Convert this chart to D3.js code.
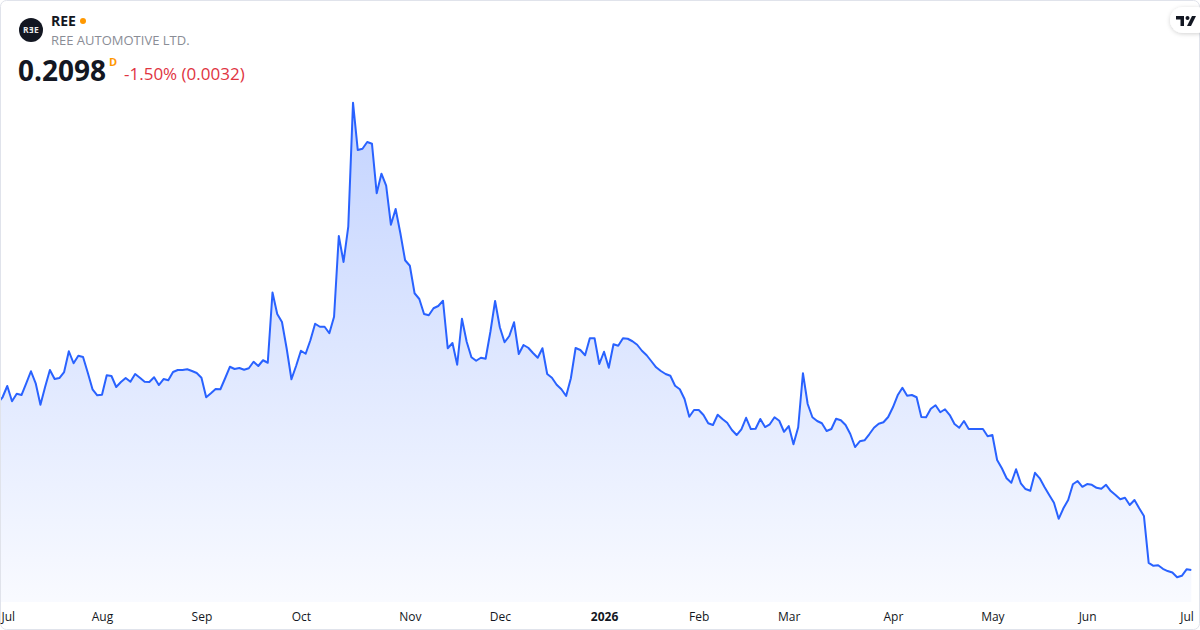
<!DOCTYPE html>
<html>
<head>
<meta charset="utf-8">
<script src="https://cdn.jsdelivr.net/npm/d3@7"></script>
<style>
  html, body { margin: 0; padding: 0; background: #fff; }
  svg { display: block; font-family: "Open Sans", "Noto Sans", sans-serif; }
</style>
</head>
<body>
<div id="container"></div>
<script>
/* CONSTANTS AND GLOBALS */
const width = 1200,
  height = 630,
  plot = { left: -2.2, right: 1191.3, top: 102.7, bottom: 577.3, base: 602 };

/* DATA */
const symbol = "REE";
const company = "REE AUTOMOTIVE LTD.";
const lastPrice = "0.2098";
const change = "-1.50% (0.0032)";

// trading days: weekdays from first to last session minus NYSE holidays
const firstDay = "2025-07-01";
const lastDay = "2026-07-02";
const holidays = [
  "2025-07-04", "2025-09-01", "2025-11-27", "2025-12-25", "2026-01-01",
  "2026-01-19", "2026-02-16", "2026-04-03", "2026-05-25", "2026-06-19"
];

// daily closes
const closes = [
  0.878, 0.901, 0.946, 0.885, 0.915, 0.910, 0.957, 1.005, 0.957, 0.871,
  0.943, 1.010, 0.974, 0.978, 1.002, 1.085, 1.037, 1.067, 1.062, 0.999,
  0.933, 0.909, 0.911, 0.989, 0.986, 0.942, 0.962, 0.978, 0.963, 0.994,
  0.979, 0.963, 0.962, 0.981, 0.950, 0.974, 0.969, 1.002, 1.010, 1.010,
  1.013, 1.006, 0.998, 0.979, 0.901, 0.917, 0.934, 0.933, 0.977, 1.023,
  1.014, 1.018, 1.011, 1.017, 1.043, 1.026, 1.049, 1.039, 1.320, 1.234,
  1.202, 1.095, 0.973, 1.027, 1.087, 1.075, 1.129, 1.195, 1.183, 1.183,
  1.157, 1.223, 1.546, 1.442, 1.583, 2.079, 1.890, 1.895, 1.922, 1.915,
  1.717, 1.795, 1.747, 1.591, 1.654, 1.557, 1.449, 1.427, 1.317, 1.294,
  1.234, 1.229, 1.257, 1.266, 1.287, 1.097, 1.118, 1.031, 1.215, 1.123,
  1.061, 1.047, 1.059, 1.055, 1.162, 1.286, 1.181, 1.121, 1.146, 1.201,
  1.074, 1.110, 1.099, 1.078, 1.059, 1.097, 0.994, 0.979, 0.951, 0.933,
  0.906, 0.977, 1.098, 1.090, 1.069, 1.137, 1.137, 1.034, 1.083, 1.019,
  1.113, 1.107, 1.137, 1.135, 1.125, 1.111, 1.087, 1.069, 1.045, 1.021,
  1.006, 0.994, 0.987, 0.947, 0.933, 0.894, 0.823, 0.850, 0.850, 0.830,
  0.797, 0.790, 0.831, 0.814, 0.799, 0.770, 0.750, 0.773, 0.819, 0.774,
  0.775, 0.814, 0.782, 0.793, 0.821, 0.807, 0.763, 0.786, 0.713, 0.781,
  0.997, 0.874, 0.821, 0.806, 0.797, 0.766, 0.774, 0.815, 0.809, 0.790,
  0.754, 0.702, 0.725, 0.729, 0.753, 0.779, 0.795, 0.801, 0.822, 0.861,
  0.909, 0.939, 0.907, 0.910, 0.901, 0.822, 0.821, 0.855, 0.869, 0.841,
  0.853, 0.830, 0.794, 0.779, 0.806, 0.774, 0.774, 0.774, 0.774, 0.745,
  0.750, 0.650, 0.617, 0.577, 0.559, 0.613, 0.557, 0.534, 0.527, 0.599,
  0.577, 0.542, 0.510, 0.479, 0.415, 0.457, 0.490, 0.553, 0.566, 0.543,
  0.554, 0.551, 0.539, 0.535, 0.551, 0.526, 0.510, 0.493, 0.499, 0.470,
  0.490, 0.457, 0.426, 0.239, 0.227, 0.229, 0.215, 0.206, 0.200, 0.181,
  0.187, 0.2130, 0.2098
];

const monthNames = ["Jan", "Feb", "Mar", "Apr", "May", "Jun",
  "Jul", "Aug", "Sep", "Oct", "Nov", "Dec"];

/* BUILD SESSIONS */
const fmtDay = d3.utcFormat("%Y-%m-%d");
const sessions = d3.utcDays(new Date(firstDay), d3.utcDay.offset(new Date(lastDay), 1))
  .filter(d => d.getUTCDay() % 6 !== 0 && !holidays.includes(fmtDay(d)));
console.log("sessions", sessions.length, "closes", closes.length);

const data = sessions.map((d, i) => ({ date: d, close: closes[i] }));

/* SCALES */
const xScale = d3.scalePoint()
  .domain(sessions)
  .range([plot.left, plot.right]);

const yScale = d3.scaleLinear()
  .domain(d3.extent(closes))
  .range([plot.bottom, plot.top]);

/* SVG */
const svg = d3.select("#container")
  .append("svg")
  .attr("width", width)
  .attr("height", height);

svg.append("rect")
  .attr("x", 0.5).attr("y", 0.5)
  .attr("width", width - 1).attr("height", height - 1)
  .attr("rx", 6)
  .attr("fill", "#fff")
  .attr("stroke", "#e0e3eb");

const defs = svg.append("defs");
const grad = defs.append("linearGradient")
  .attr("id", "fill")
  .attr("gradientUnits", "userSpaceOnUse")
  .attr("x1", 0).attr("x2", 0)
  .attr("y1", plot.top).attr("y2", plot.base);
grad.append("stop").attr("offset", 0).attr("stop-color", "#2962ff").attr("stop-opacity", 0.28);
grad.append("stop").attr("offset", 1).attr("stop-color", "#2962ff").attr("stop-opacity", 0.03);

defs.append("clipPath").attr("id", "pane")
  .append("rect").attr("x", 1).attr("y", 1).attr("width", width - 2).attr("height", plot.base);

defs.append("filter").attr("id", "shadow")
  .attr("x", "-50%").attr("y", "-50%").attr("width", "200%").attr("height", "200%")
  .append("feDropShadow")
  .attr("dx", 0).attr("dy", 1).attr("stdDeviation", 2)
  .attr("flood-color", "#000").attr("flood-opacity", 0.18);

const pane = svg.append("g").attr("clip-path", "url(#pane)");

const area = d3.area()
  .x(d => xScale(d.date))
  .y0(plot.base)
  .y1(d => yScale(d.close));

const line = d3.line()
  .x(d => xScale(d.date))
  .y(d => yScale(d.close));

pane.append("path")
  .datum(data)
  .attr("d", area)
  .attr("fill", "url(#fill)");

pane.append("path")
  .datum(data)
  .attr("d", line)
  .attr("fill", "none")
  .attr("stroke", "#2962ff")
  .attr("stroke-width", 2)
  .attr("stroke-linejoin", "round");

/* X AXIS - first session of each month */
const monthStarts = sessions.filter((d, i) => i === 0 || d.getUTCMonth() !== sessions[i - 1].getUTCMonth());

const xAxis = d3.axisBottom(xScale)
  .tickValues(monthStarts)
  .tickSize(0)
  .tickPadding(0)
  .tickFormat(d => d.getUTCMonth() === 0 ? String(d.getUTCFullYear()) : monthNames[d.getUTCMonth()]);

const axisG = svg.append("g")
  .attr("transform", "translate(0,612)")
  .call(xAxis);

axisG.select(".domain").remove();
axisG.selectAll("text")
  .attr("fill", "#131722")
  .attr("font-size", 12)
  .attr("font-family", "\"Open Sans\", sans-serif")
  .attr("font-weight", d => d.getUTCMonth() === 0 ? 700 : 400)
  .attr("text-anchor", d => xScale(d) < 12 ? "start" : "middle")
  .attr("dx", d => xScale(d) < 12 ? 1 - xScale(d) : 0);

/* HEADER */
const logo = svg.append("g").attr("transform", "translate(31,30)");
logo.append("circle").attr("r", 12).attr("fill", "#131722");
logo.append("text")
  .attr("text-anchor", "middle").attr("y", 3)
  .attr("font-size", 8.5).attr("font-weight", 700)
  .attr("letter-spacing", 0.3)
  .attr("fill", "#e8e8e8")
  .text("RƎE");

svg.append("text")
  .attr("x", 51).attr("y", 26)
  .attr("font-size", 14).attr("font-weight", 700)
  .attr("fill", "#131722")
  .text(symbol);

svg.append("circle")
  .attr("cx", 83).attr("cy", 21).attr("r", 3)
  .attr("fill", "#ff9800");

svg.append("text")
  .attr("x", 51).attr("y", 45)
  .attr("font-size", 13)
  .attr("fill", "#8a8d96")
  .text(company);

svg.append("text")
  .attr("x", 18).attr("y", 81)
  .attr("font-size", 28).attr("font-weight", 700)
  .attr("fill", "#131722")
  .text(lastPrice);

svg.append("text")
  .attr("x", 109).attr("y", 66)
  .attr("font-size", 11).attr("font-weight", 700)
  .attr("fill", "#ff9800")
  .text("D");

svg.append("text")
  .attr("x", 124).attr("y", 80)
  .attr("font-size", 17)
  .attr("fill", "#e0343f")
  .text(change);

/* TV BADGE */
const badge = svg.append("g").attr("transform", "translate(1170,7)");
badge.append("rect")
  .attr("width", 40).attr("height", 26).attr("rx", 13)
  .attr("fill", "#fff")
  .attr("filter", "url(#shadow)");
badge.append("path")
  .attr("d", "M6,9 H14 V19 H10.5 V12.5 H6 Z")
  .attr("fill", "#131722");
badge.append("circle")
  .attr("cx", 17.5).attr("cy", 11).attr("r", 2)
  .attr("fill", "#131722");
badge.append("path")
  .attr("d", "M22,9 H26 L21,19 H17 Z")
  .attr("fill", "#131722");
</script>
</body>
</html>
